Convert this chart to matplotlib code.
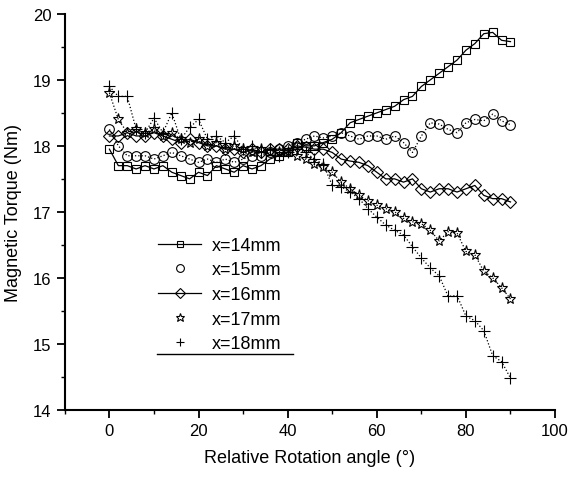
import numpy as np
import matplotlib
matplotlib.use("Agg")
import matplotlib.pyplot as plt
from matplotlib.lines import Line2D
from matplotlib.ticker import MultipleLocator

plt.rcParams["font.family"] = ["Liberation Sans", "DejaVu Sans"]

# rotation angle (deg), sampled every 2 degrees
angle = np.arange(0, 92, 2)

torque_14 = [17.95, 17.7, 17.7, 17.65, 17.7, 17.65, 17.7, 17.6, 17.55, 17.5,
             17.6, 17.55, 17.7, 17.65, 17.6, 17.7, 17.65, 17.7, 17.8, 17.85,
             17.9, 18.05, 18.0, 18.0, 18.05, 18.1, 18.2, 18.35, 18.4, 18.45,
             18.5, 18.55, 18.6, 18.7, 18.75, 18.9, 19.0, 19.1, 19.2, 19.3,
             19.45, 19.55, 19.7, 19.72, 19.6, 19.58]
torque_15 = [18.25, 18.0, 17.85, 17.85, 17.85, 17.8, 17.85, 17.9, 17.85, 17.8,
             17.75, 17.8, 17.75, 17.8, 17.75, 17.8, 17.85, 17.85, 17.9, 17.95,
             18.0, 18.05, 18.1, 18.15, 18.12, 18.15, 18.2, 18.15, 18.1, 18.15,
             18.15, 18.1, 18.15, 18.05, 17.9, 18.15, 18.35, 18.33, 18.25, 18.2,
             18.35, 18.4, 18.38, 18.48, 18.38, 18.32]
torque_16 = [18.15, 18.15, 18.2, 18.15, 18.15, 18.2, 18.15, 18.1, 18.05, 18.1,
             18.05, 18.0, 18.0, 17.95, 17.95, 17.9, 17.95, 17.9, 17.95, 17.95,
             17.95, 18.0, 17.98, 17.95, 17.95, 17.9, 17.8, 17.77, 17.75, 17.7,
             17.6, 17.5, 17.5, 17.45, 17.5, 17.35, 17.3, 17.35, 17.35, 17.3,
             17.35, 17.4, 17.25, 17.2, 17.2, 17.15]
torque_17 = [18.8, 18.4, 18.2, 18.25, 18.2, 18.25, 18.15, 18.2, 18.1, 18.05,
             18.1, 18.0, 18.05, 17.95, 18.0, 17.95, 17.9, 17.95, 17.9, 17.9,
             17.9, 17.85, 17.8, 17.72, 17.68, 17.6, 17.45, 17.35, 17.25, 17.17,
             17.1, 17.05, 17.0, 16.9, 16.85, 16.82, 16.72, 16.56, 16.7, 16.68,
             16.4, 16.35, 16.1, 16.0, 15.85, 15.68]
torque_18 = [18.9, 18.75, 18.75, 18.25, 18.2, 18.42, 18.2, 18.5, 18.1, 18.28,
             18.4, 18.1, 18.15, 18.05, 18.15, 17.95, 18.0, 17.9, 17.95, 17.85,
             17.9, 17.95, 17.9, 17.8, 17.72, 17.4, 17.38, 17.3, 17.2, 17.05,
             16.92, 16.8, 16.72, 16.65, 16.47, 16.3, 16.15, 16.03, 15.72, 15.73,
             15.42, 15.35, 15.2, 14.82, 14.73, 14.48]

labels = ["x=14mm", "x=15mm", "x=16mm", "x=17mm", "x=18mm"]
series = [torque_14, torque_15, torque_16, torque_17, torque_18]
markers = ["s", "o", "D", "*", "+"]
lstyles = ["-", ":", "-", ":", ":"]
sizes = [6, 7, 6, 8, 8]

fig = plt.figure(figsize=(5.74, 4.81), dpi=100)
ax = fig.add_axes([0.113, 0.146, 0.854, 0.823])

handles = []
for y, lab, m, ls, ms in zip(series, labels, markers, lstyles, sizes):
    ax.plot(angle, y, linestyle=ls, linewidth=0.9, color="black",
            marker=m, markersize=ms, markerfacecolor="none",
            markeredgecolor="black", markeredgewidth=0.8)
    handles.append(Line2D([], [], linestyle=ls if ls == "-" else "none",
                          linewidth=0.9, color="black", marker=m,
                          markersize=ms * 0.8, markerfacecolor="none",
                          markeredgecolor="black", markeredgewidth=0.8))

ax.set_xlim(-10, 100)
ax.set_ylim(14, 20)
ax.xaxis.set_major_locator(MultipleLocator(20))
ax.xaxis.set_minor_locator(MultipleLocator(10))
ax.yaxis.set_major_locator(MultipleLocator(1))
ax.yaxis.set_minor_locator(MultipleLocator(0.5))

for side in ["top", "right"]:
    ax.spines[side].set_visible(False)
for side in ["left", "bottom"]:
    ax.spines[side].set_linewidth(1.5)

ax.tick_params(which="major", direction="out", length=6, width=1.3, labelsize=12)
ax.tick_params(which="minor", direction="out", length=3, width=1.0)

ax.set_xlabel("Relative Rotation angle (°)", fontsize=13, labelpad=8)
ax.set_ylabel("Magnetic Torque (Nm)", fontsize=13, labelpad=8)

leg = ax.legend(handles, labels, loc="upper left", bbox_to_anchor=(0.175, 0.455),
                frameon=False, fontsize=13, handlelength=2.4,
                labelspacing=0.42, handletextpad=0.6, borderaxespad=0)
ax.plot([0.188, 0.465], [0.141, 0.141], transform=ax.transAxes,
        color="black", linewidth=1.0, clip_on=False)

fig.savefig("out.png", dpi=100)
